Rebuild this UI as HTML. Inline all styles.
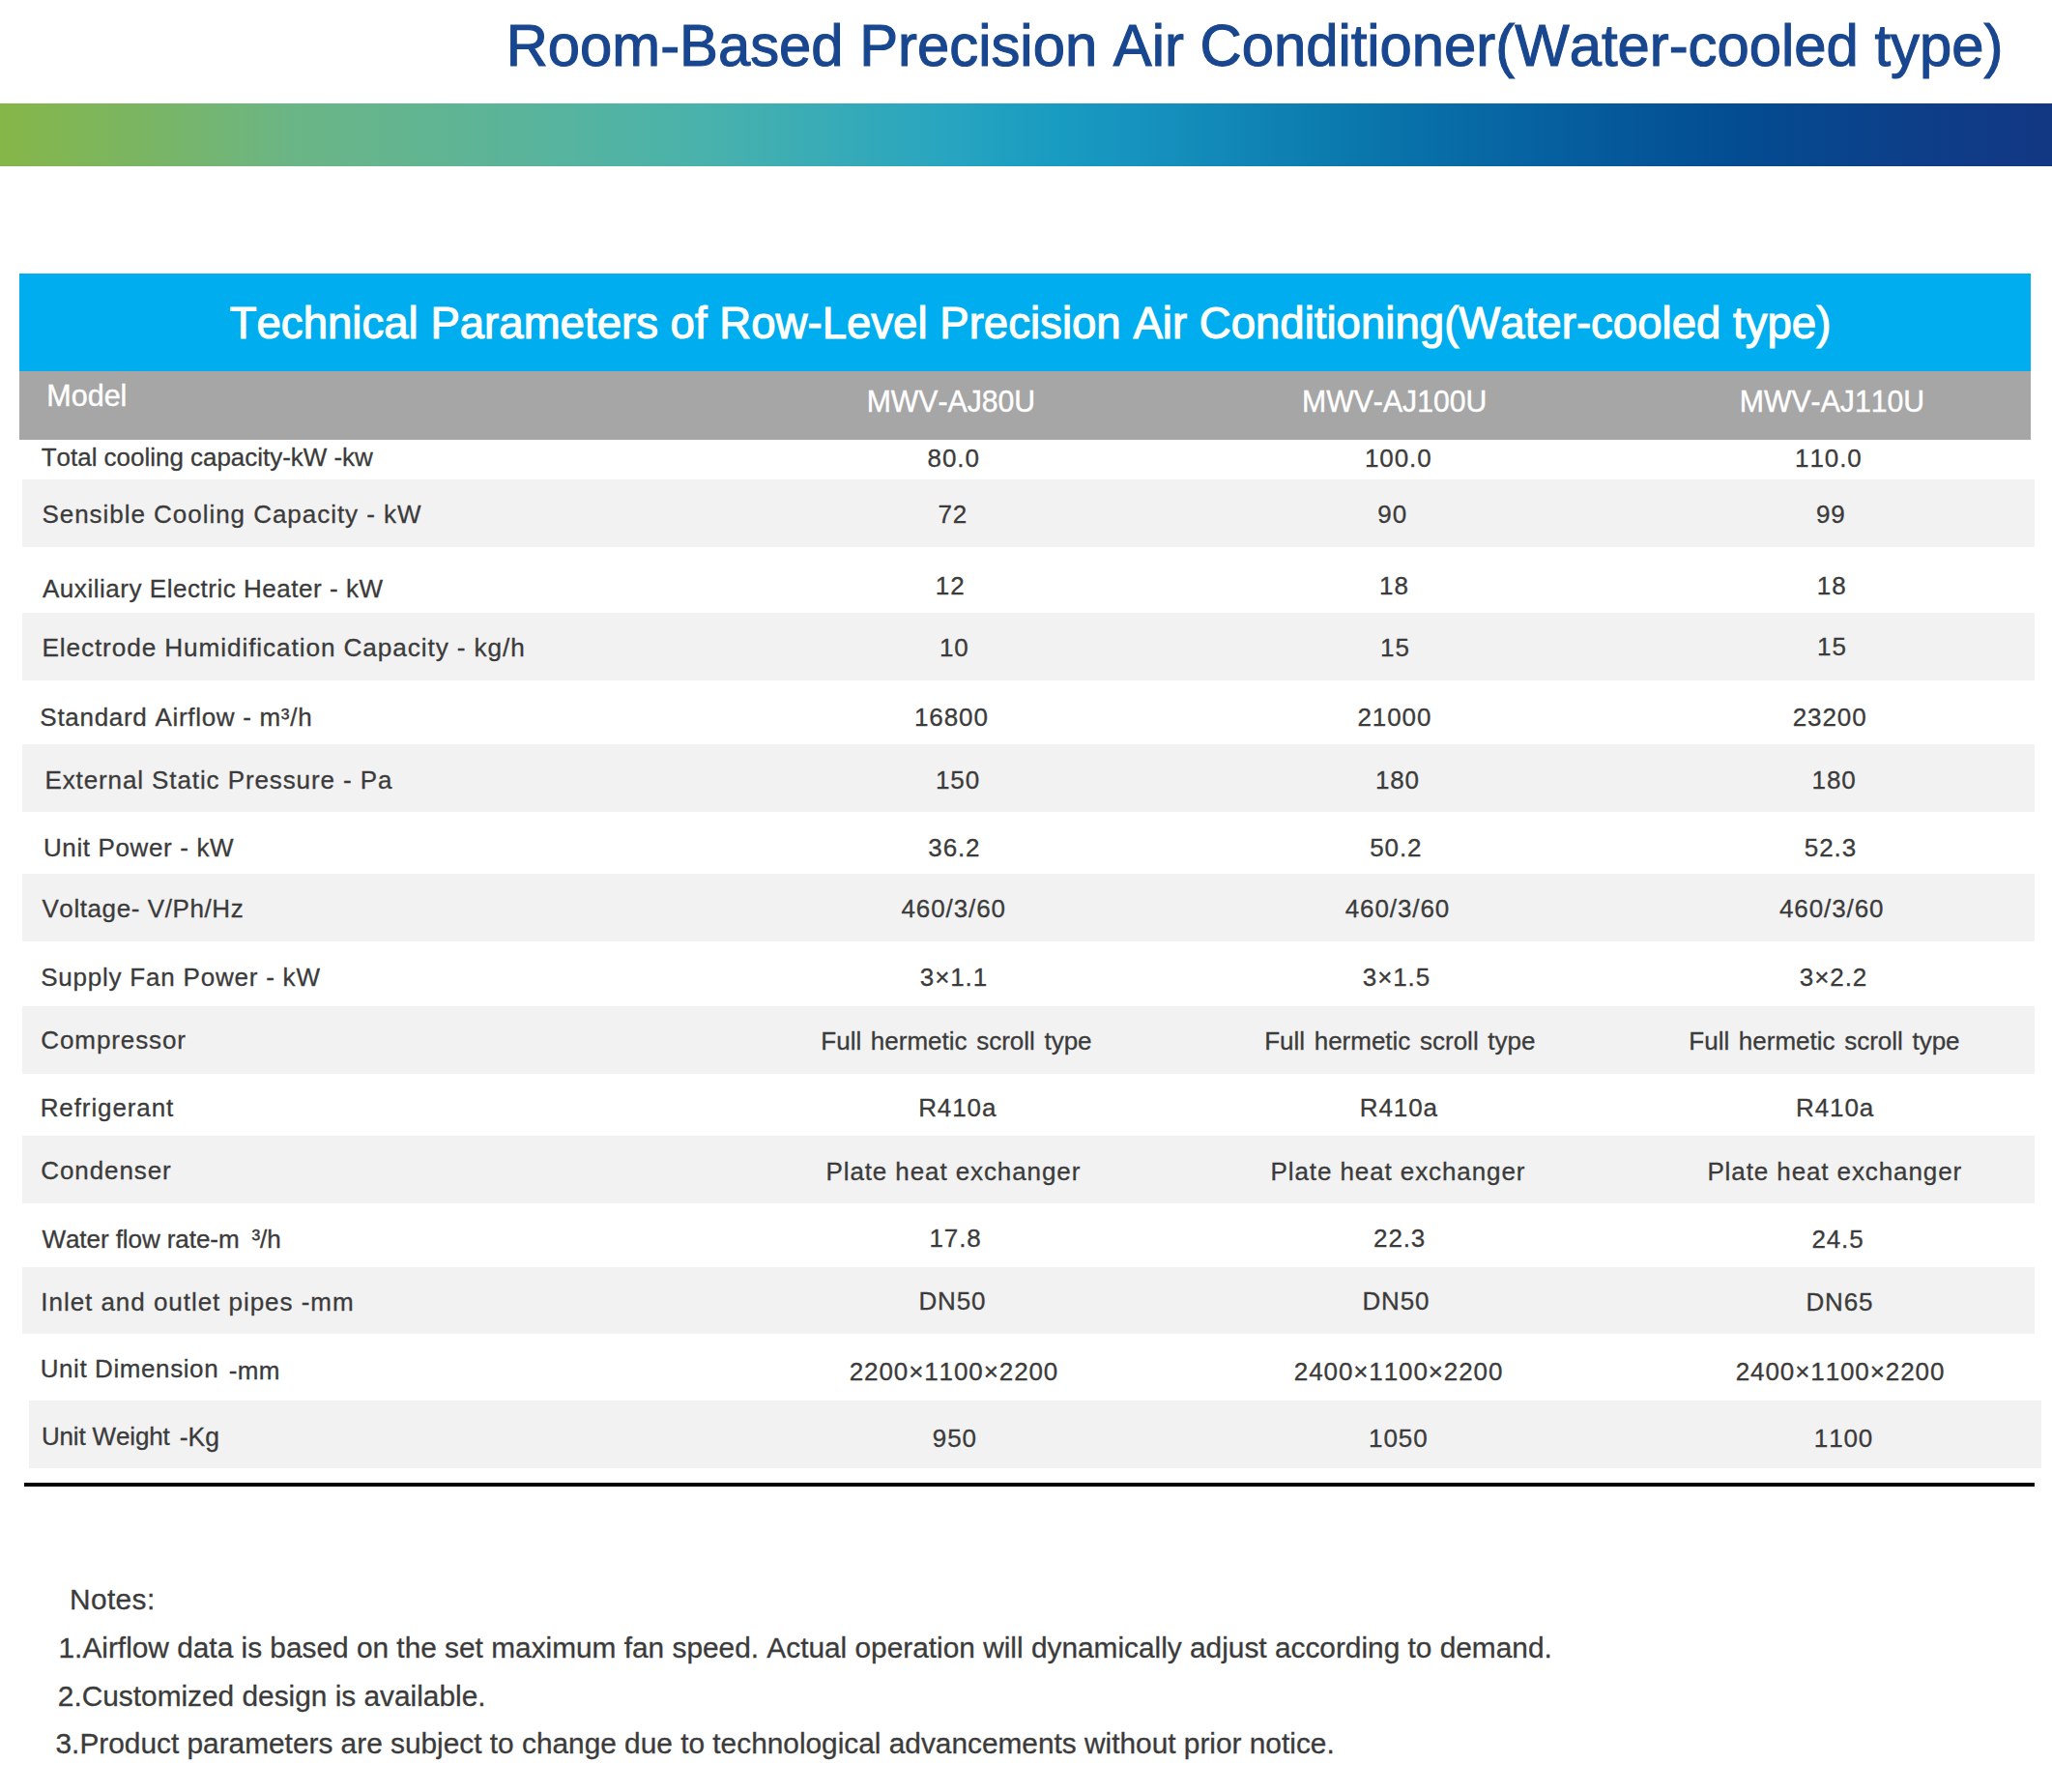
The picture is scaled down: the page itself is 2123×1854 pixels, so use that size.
<!DOCTYPE html>
<html lang="en"><head><meta charset="utf-8"><title>Room-Based Precision Air Conditioner(Water-cooled type)</title>
<style>
html,body{margin:0;padding:0;background:#fff;}
body{width:2123px;height:1854px;position:relative;overflow:hidden;font-family:"Liberation Sans",Arial,sans-serif;font-size:26px;color:#3b3b3b;font-variant-ligatures:none;font-kerning:none;-webkit-text-stroke:0.3px #3b3b3b;}
header,main,section,footer,article{display:block;margin:0;padding:0;}
h1,h2,p,span,b,i{position:absolute;margin:0;padding:0;white-space:nowrap;line-height:1;font-weight:normal;font-style:normal;font-size:26px;transform:scaleY(1.015);transform-origin:50% 84.65%;}
i{display:block;transform:none;}
.bar{left:0;top:107px;width:2123px;height:64.5px;background:linear-gradient(90deg,#85b648 0px,#7ab563 150px,#6bb585 300px,#5bb499 525px,#4ab2ab 720px,#28a5c0 975px,#189bc1 1100px,#1590bd 1200px,#0a78ac 1400px,#0660a0 1600px,#034c91 1800px,#0e3d87 2000px,#123783 2123px);}
.blue{left:20px;top:283px;width:2081px;height:101px;background:#00aeef;}
.grey{left:20px;top:383.8px;width:2081px;height:70.8px;background:#a6a6a6;}
.st{left:23px;width:2082px;height:69.7px;background:#f2f2f2;}
.line{left:24.5px;top:1534.3px;width:2080.5px;height:3.8px;background:#000;}
.h1{color:#18468f;-webkit-text-stroke:1.1px #18468f;}
.w{color:#fff;-webkit-text-stroke:0.4px #fff;}
.h2{color:#fff;-webkit-text-stroke:1.1px #fff;}
</style></head><body>

<header>
<h1 class="h1" style="top:18.08px;left:1298.00px;transform:translateX(-50%) scaleY(1.015);font-size:59.8px;">Room-Based Precision Air Conditioner(Water-cooled type)</h1>
<i class="bar"></i>
</header>
<main>
<section class="caption"><i class="blue"></i>
<h2 class="h2" style="top:311.82px;left:1066.00px;transform:translateX(-50%) scaleY(1.015);font-size:45.58px;">Technical Parameters of Row-Level Precision Air Conditioning(Water-cooled type)</h2>
</section>
<section class="thead"><i class="grey"></i>
<b class="w" style="top:394.38px;left:48.30px;font-size:30.5px;">Model</b>
<b class="w" style="top:401.04px;left:983.95px;transform:translateX(-50%) scaleY(1.015);font-size:30.2px;">MWV-AJ80U</b>
<b class="w" style="top:401.04px;left:1442.70px;transform:translateX(-50%) scaleY(1.015);font-size:30.2px;">MWV-AJ100U</b>
<b class="w" style="top:401.04px;left:1895.45px;transform:translateX(-50%) scaleY(1.015);font-size:30.2px;">MWV-AJ110U</b>
</section>
<section class="tbody">
<article class="row">
<span style="top:461.33px;left:42.75px;font-size:25.95px;">Total cooling capacity-kW -kw</span>
<span style="top:460.89px;left:986.67px;transform:translateX(-50%) scaleY(1.015);letter-spacing:0.9px;">80.0</span>
<span style="top:460.89px;left:1446.80px;transform:translateX(-50%) scaleY(1.015);letter-spacing:0.9px;">100.0</span>
<span style="top:461.49px;left:1891.85px;transform:translateX(-50%) scaleY(1.015);letter-spacing:0.9px;">110.0</span>
</article>
<article class="row">
<i class="st" style="top:496.1px"></i>
<span style="top:518.89px;left:43.42px;letter-spacing:0.966px;">Sensible Cooling Capacity - kW</span>
<span style="top:518.79px;left:985.80px;transform:translateX(-50%) scaleY(1.015);letter-spacing:0.9px;">72</span>
<span style="top:518.79px;left:1440.70px;transform:translateX(-50%) scaleY(1.015);letter-spacing:0.9px;">90</span>
<span style="top:519.29px;left:1894.32px;transform:translateX(-50%) scaleY(1.015);letter-spacing:0.9px;">99</span>
</article>
<article class="row">
<span style="top:595.79px;left:44.00px;letter-spacing:0.531px;">Auxiliary Electric Heater - kW</span>
<span style="top:592.79px;left:983.20px;transform:translateX(-50%) scaleY(1.015);letter-spacing:0.9px;">12</span>
<span style="top:592.79px;left:1442.40px;transform:translateX(-50%) scaleY(1.015);letter-spacing:0.9px;">18</span>
<span style="top:592.99px;left:1895.20px;transform:translateX(-50%) scaleY(1.015);letter-spacing:0.9px;">18</span>
</article>
<article class="row">
<i class="st" style="top:633.9px"></i>
<span style="top:657.02px;left:43.40px;font-size:26.2px;letter-spacing:0.9px;">Electrode Humidification Capacity - kg/h</span>
<span style="top:657.09px;left:987.35px;transform:translateX(-50%) scaleY(1.015);letter-spacing:0.9px;">10</span>
<span style="top:657.09px;left:1443.40px;transform:translateX(-50%) scaleY(1.015);letter-spacing:0.9px;">15</span>
<span style="top:656.29px;left:1895.40px;transform:translateX(-50%) scaleY(1.015);letter-spacing:0.9px;">15</span>
</article>
<article class="row">
<span style="top:728.79px;left:41.35px;letter-spacing:0.7px;">Standard Airflow - m³/h</span>
<span style="top:729.19px;left:984.35px;transform:translateX(-50%) scaleY(1.015);letter-spacing:0.9px;">16800</span>
<span style="top:729.19px;left:1442.90px;transform:translateX(-50%) scaleY(1.015);letter-spacing:0.9px;">21000</span>
<span style="top:729.49px;left:1893.15px;transform:translateX(-50%) scaleY(1.015);letter-spacing:0.9px;">23200</span>
</article>
<article class="row">
<i class="st" style="top:769.9px"></i>
<span style="top:793.59px;left:46.40px;letter-spacing:0.9px;">External Static Pressure - Pa</span>
<span style="top:794.09px;left:990.97px;transform:translateX(-50%) scaleY(1.015);letter-spacing:0.9px;">150</span>
<span style="top:794.09px;left:1445.95px;transform:translateX(-50%) scaleY(1.015);letter-spacing:0.9px;">180</span>
<span style="top:794.39px;left:1897.59px;transform:translateX(-50%) scaleY(1.015);letter-spacing:0.9px;">180</span>
</article>
<article class="row">
<span style="top:863.69px;left:44.90px;letter-spacing:0.636px;">Unit Power - kW</span>
<span style="top:863.99px;left:987.40px;transform:translateX(-50%) scaleY(1.015);letter-spacing:0.9px;">36.2</span>
<span style="top:863.99px;left:1444.35px;transform:translateX(-50%) scaleY(1.015);letter-spacing:0.9px;">50.2</span>
<span style="top:863.79px;left:1893.95px;transform:translateX(-50%) scaleY(1.015);letter-spacing:0.9px;">52.3</span>
</article>
<article class="row">
<i class="st" style="top:903.9px"></i>
<span style="top:926.59px;left:43.40px;letter-spacing:0.593px;">Voltage- V/Ph/Hz</span>
<span style="top:927.09px;left:986.70px;transform:translateX(-50%) scaleY(1.015);letter-spacing:0.9px;">460/3/60</span>
<span style="top:927.09px;left:1445.95px;transform:translateX(-50%) scaleY(1.015);letter-spacing:0.9px;">460/3/60</span>
<span style="top:927.19px;left:1895.21px;transform:translateX(-50%) scaleY(1.015);letter-spacing:0.9px;">460/3/60</span>
</article>
<article class="row">
<span style="top:997.59px;left:42.15px;letter-spacing:0.785px;">Supply Fan Power - kW</span>
<span style="top:998.19px;left:986.95px;transform:translateX(-50%) scaleY(1.015);letter-spacing:0.9px;">3×1.1</span>
<span style="top:998.19px;left:1444.95px;transform:translateX(-50%) scaleY(1.015);letter-spacing:0.9px;">3×1.5</span>
<span style="top:997.79px;left:1897.00px;transform:translateX(-50%) scaleY(1.015);letter-spacing:0.9px;">3×2.2</span>
</article>
<article class="row">
<i class="st" style="top:1041.0px"></i>
<span style="top:1063.39px;left:42.31px;letter-spacing:0.9px;">Compressor</span>
<span style="top:1063.59px;left:989.45px;transform:translateX(-50%) scaleY(1.015);word-spacing:2.4px;">Full hermetic scroll type</span>
<span style="top:1063.59px;left:1448.30px;transform:translateX(-50%) scaleY(1.015);word-spacing:2.4px;">Full hermetic scroll type</span>
<span style="top:1063.69px;left:1887.45px;transform:translateX(-50%) scaleY(1.015);word-spacing:2.4px;">Full hermetic scroll type</span>
</article>
<article class="row">
<span style="top:1132.69px;left:41.70px;letter-spacing:0.9px;">Refrigerant</span>
<span style="top:1132.89px;left:990.75px;transform:translateX(-50%) scaleY(1.015);letter-spacing:0.9px;">R410a</span>
<span style="top:1132.89px;left:1447.30px;transform:translateX(-50%) scaleY(1.015);letter-spacing:0.9px;">R410a</span>
<span style="top:1132.99px;left:1898.64px;transform:translateX(-50%) scaleY(1.015);letter-spacing:0.9px;">R410a</span>
</article>
<article class="row">
<i class="st" style="top:1175.1px"></i>
<span style="top:1198.49px;left:42.31px;letter-spacing:0.9px;">Condenser</span>
<span style="top:1198.59px;left:986.33px;transform:translateX(-50%) scaleY(1.015);letter-spacing:0.9px;">Plate heat exchanger</span>
<span style="top:1198.59px;left:1446.45px;transform:translateX(-50%) scaleY(1.015);letter-spacing:0.9px;">Plate heat exchanger</span>
<span style="top:1199.29px;left:1898.25px;transform:translateX(-50%) scaleY(1.015);letter-spacing:0.9px;">Plate heat exchanger</span>
</article>
<article class="row">
<span style="top:1268.71px;left:43.40px;font-size:26.1px;letter-spacing:-0.1px;">Water flow rate-m</span>
<span style="top:1268.71px;left:260.40px;font-size:26.1px;">³/h</span>
<span style="top:1268.19px;left:988.60px;transform:translateX(-50%) scaleY(1.015);letter-spacing:0.9px;">17.8</span>
<span style="top:1268.19px;left:1448.15px;transform:translateX(-50%) scaleY(1.015);letter-spacing:0.9px;">22.3</span>
<span style="top:1269.09px;left:1901.50px;transform:translateX(-50%) scaleY(1.015);letter-spacing:0.9px;">24.5</span>
</article>
<article class="row">
<i class="st" style="top:1310.8px"></i>
<span style="top:1333.79px;left:42.30px;letter-spacing:0.964px;">Inlet and outlet pipes -mm</span>
<span style="top:1333.39px;left:985.43px;transform:translateX(-50%) scaleY(1.015);letter-spacing:0.9px;">DN50</span>
<span style="top:1333.39px;left:1444.45px;transform:translateX(-50%) scaleY(1.015);letter-spacing:0.9px;">DN50</span>
<span style="top:1333.99px;left:1903.45px;transform:translateX(-50%) scaleY(1.015);letter-spacing:0.9px;">DN65</span>
</article>
<article class="row">
<span style="top:1403.39px;left:41.70px;letter-spacing:0.588px;">Unit Dimension</span>
<span style="top:1405.49px;left:236.80px;letter-spacing:0.35px;">-mm</span>
<span style="top:1405.89px;left:986.97px;transform:translateX(-50%) scaleY(1.015);letter-spacing:0.9px;">2200×1100×2200</span>
<span style="top:1405.89px;left:1447.07px;transform:translateX(-50%) scaleY(1.015);letter-spacing:0.9px;">2400×1100×2200</span>
<span style="top:1406.49px;left:1904.00px;transform:translateX(-50%) scaleY(1.015);letter-spacing:0.9px;">2400×1100×2200</span>
</article>
<article class="row">
<i class="st" style="top:1448.9px;left:30px;width:2081.6px;height:69.9px"></i>
<span style="top:1473.09px;left:42.90px;letter-spacing:-0.15px;">Unit Weight</span>
<span style="top:1474.17px;left:185.70px;font-size:26.5px;">-Kg</span>
<span style="top:1475.19px;left:987.86px;transform:translateX(-50%) scaleY(1.015);letter-spacing:0.9px;">950</span>
<span style="top:1475.19px;left:1446.80px;transform:translateX(-50%) scaleY(1.015);letter-spacing:0.9px;">1050</span>
<span style="top:1474.59px;left:1907.50px;transform:translateX(-50%) scaleY(1.015);letter-spacing:0.9px;">1100</span>
</article>
<i class="line"></i>
</section>
</main>
<footer>
<p style="top:1639.75px;left:72.00px;font-size:29.83px;letter-spacing:0.4px;">Notes:</p>
<p style="top:1689.75px;left:833.15px;transform:translateX(-50%) scaleY(1.015);font-size:29.83px;">1.Airflow data is based on the set maximum fan speed. Actual operation will dynamically adjust according to demand.</p>
<p style="top:1739.55px;left:281.20px;transform:translateX(-50%) scaleY(1.015);font-size:29.83px;">2.Customized design is available.</p>
<p style="top:1789.25px;left:719.10px;transform:translateX(-50%) scaleY(1.015);font-size:29.83px;">3.Product parameters are subject to change due to technological advancements without prior notice.</p>
</footer>
</body></html>
